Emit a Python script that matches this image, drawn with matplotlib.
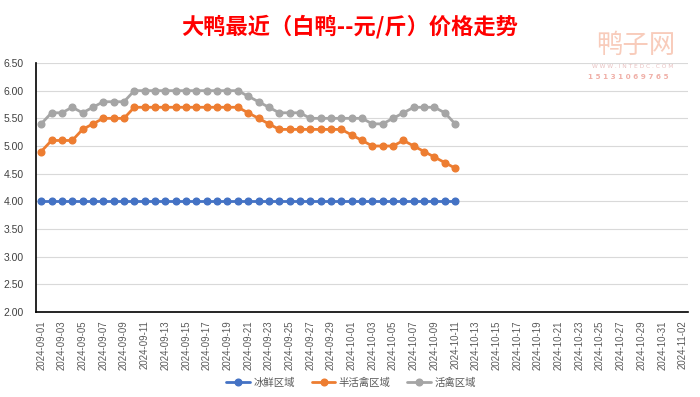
import matplotlib
matplotlib.use("Agg")
import matplotlib.pyplot as plt
import numpy as np
import pandas as pd

plt.rcParams['font.family'] = ['Noto Sans CJK SC', 'DejaVu Sans']

dates = [d.strftime('%Y-%m-%d') for d in pd.date_range('2024-09-01', '2024-11-02')]

ice_fresh = [4.00] * 41
semi_live = [4.90, 5.10, 5.10, 5.10, 5.30, 5.40, 5.50, 5.50, 5.50, 5.70,
             5.70, 5.70, 5.70, 5.70, 5.70, 5.70, 5.70, 5.70, 5.70, 5.70,
             5.60, 5.50, 5.40, 5.30, 5.30, 5.30, 5.30, 5.30, 5.30, 5.30,
             5.20, 5.10, 5.00, 5.00, 5.00, 5.10, 5.00, 4.90, 4.80, 4.70,
             4.60]
live = [5.40, 5.60, 5.60, 5.70, 5.60, 5.70, 5.80, 5.80, 5.80, 6.00,
        6.00, 6.00, 6.00, 6.00, 6.00, 6.00, 6.00, 6.00, 6.00, 6.00,
        5.90, 5.80, 5.70, 5.60, 5.60, 5.60, 5.50, 5.50, 5.50, 5.50,
        5.50, 5.50, 5.40, 5.40, 5.50, 5.60, 5.70, 5.70, 5.70, 5.60,
        5.40]
series_names = ['冰鲜区域', '半活禽区域', '活禽区域']
colors = ['#4472C4', '#ED7D31', '#A5A5A5']
yticks = [2.00, 2.50, 3.00, 3.50, 4.00, 4.50, 5.00, 5.50, 6.00, 6.50]

fig = plt.figure(figsize=(7.0, 3.97), dpi=100)
ax = fig.add_axes([36/700, 1 - 312/397, (688-36)/700, (312-63)/397])

for vals, name, c in zip([ice_fresh, semi_live, live], series_names, colors):
    ax.plot(np.arange(len(vals)), vals, color=c, lw=2.0, marker='o', ms=4.8,
            label=name, solid_capstyle='round', zorder=3)

ax.set_xlim(-0.5, len(dates) - 0.5)
ax.set_ylim(2.0, 6.5)
ax.set_yticks(yticks)
ax.set_yticklabels([f'{v:.2f}' for v in yticks], fontsize=7.5, color='#404040',
                   family=['Liberation Sans'])
ax.set_xticks(np.arange(0, len(dates), 2))
ax.set_xticklabels(dates[::2], rotation=90, fontsize=6.9, color='#595959',
                   family=['Liberation Sans'])
ax.tick_params(axis='y', length=0, pad=9)
ax.tick_params(axis='x', length=0, pad=6)
ax.grid(axis='y', color='#D9D9D9', lw=0.8)
ax.set_axisbelow(True)
for s in ['top', 'right']:
    ax.spines[s].set_visible(False)
ax.spines['left'].set_color('black')
ax.spines['bottom'].set_color('black')
ax.spines['left'].set_linewidth(1.2)
ax.spines['bottom'].set_linewidth(1.2)

fig.text(350/700, 1 - 27/397, '大鸭最近（白鸭--元/斤）价格走势', ha='center', va='center',
         fontsize=16, fontweight='bold', color='#FF0000')

# watermark
fig.text(636/700, 1 - 45/397, '鸭子网', ha='center', va='center', fontsize=19,
         color='#F7C3B0', alpha=0.85)
fig.text(633/700, 1 - 66/397, 'W W W . I N T E D C . C O M', ha='center', va='center',
         fontsize=4.2, color='#E8C0C0', family=['DejaVu Sans'])
fig.text(628/700, 1 - 77/397, '1 5 1 3 1 0 6 9 7 6 5', ha='center', va='center',
         fontsize=5.2, color='#F0B0A8', fontweight='bold', family=['DejaVu Sans'])

leg = fig.legend(loc='center', bbox_to_anchor=(351/700, 1 - 383/397), ncol=3,
                 frameon=False, fontsize=7.5, handlelength=2.3, columnspacing=1.6,
                 handletextpad=0.3, labelcolor='#595959')

fig.savefig('out.png', dpi=100, facecolor='white')
